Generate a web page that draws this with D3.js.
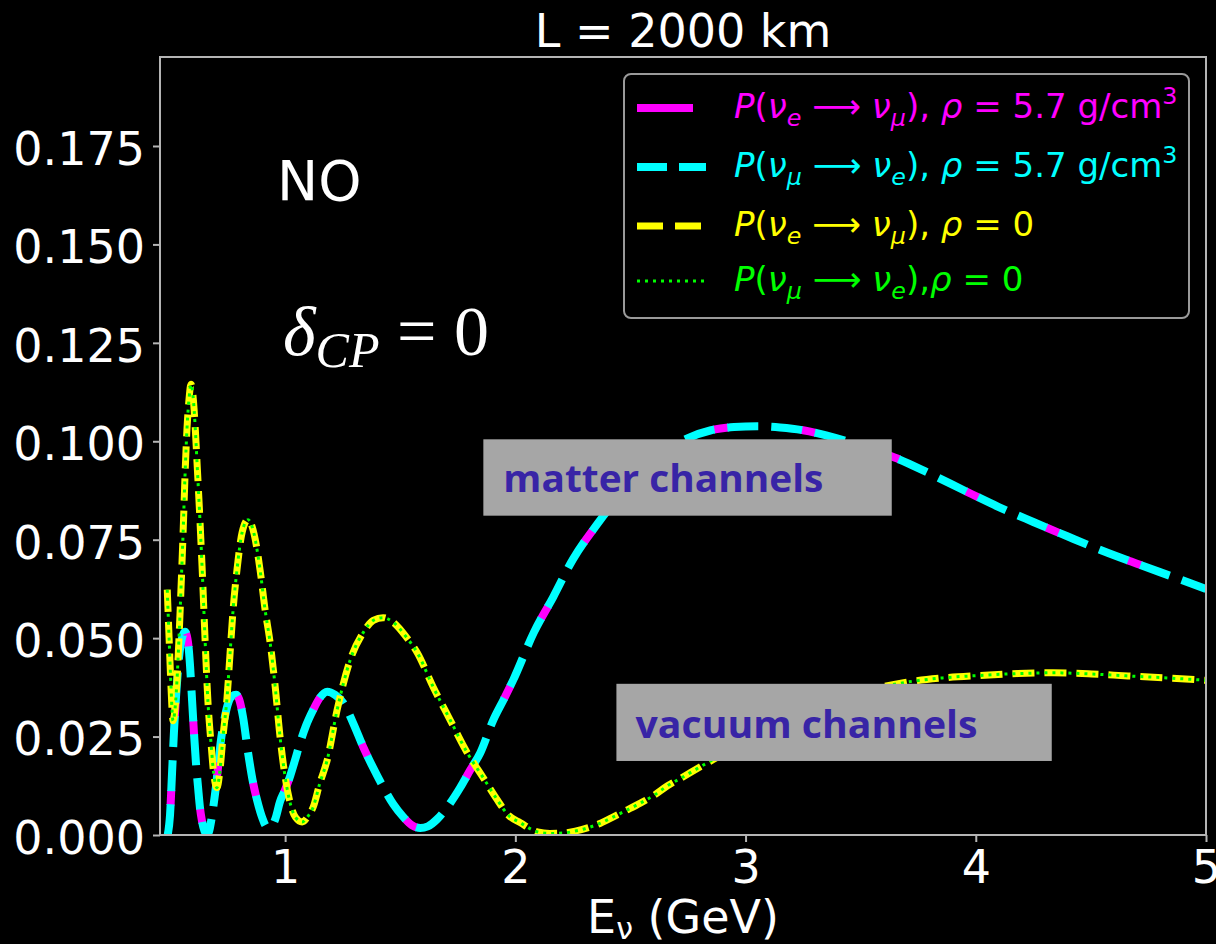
<!DOCTYPE html>
<html>
<head>
<meta charset="utf-8">
<script src="https://cdn.jsdelivr.net/npm/d3@7"></script>
<style>
  body { margin: 0; background: #000; }
  svg { display: block; }
</style>
</head>
<body>
<div id="chart"><svg></svg></div>
<script>
// matter channels (both directions give the same curve)
var matterE = [0.490, 0.500, 0.509, 0.517, 0.526, 0.539, 0.552, 0.565, 0.578, 0.587, 0.596, 0.604, 0.613, 0.622, 0.630, 0.639, 0.650, 0.661,
  0.670, 0.680, 0.690, 0.700, 0.710, 0.720, 0.735, 0.750, 0.768, 0.787, 0.800, 0.817, 0.839, 0.860, 0.878, 0.900, 0.922, 0.940,
  0.957, 0.978, 1.000, 1.022, 1.043, 1.065, 1.091, 1.122, 1.150, 1.183, 1.217, 1.252, 1.295, 1.339, 1.383, 1.426, 1.470, 1.513,
  1.550, 1.587, 1.620, 1.660, 1.717, 1.760, 1.804, 1.848, 1.904, 1.950, 1.991, 2.080, 2.165, 2.250, 2.350, 2.450, 2.550, 2.650,
  2.750, 2.850, 2.950, 3.050, 3.150, 3.250, 3.350, 3.450, 3.550, 3.650, 3.800, 3.950, 4.100, 4.250, 4.400, 4.550, 4.700, 4.850, 5.000];
var matterP = [0.000, 0.005, 0.016, 0.026, 0.035, 0.045, 0.050, 0.0516, 0.049, 0.043, 0.034, 0.026, 0.018, 0.012, 0.007, 0.0035, 0.001, 0.000,
  0.001, 0.004, 0.008, 0.0125, 0.018, 0.0235, 0.029, 0.033, 0.0352, 0.0356, 0.0345, 0.030, 0.0209, 0.0135, 0.0089, 0.0045, 0.002, 0.0022,
  0.004, 0.0085, 0.0115, 0.015, 0.019, 0.0234, 0.0278, 0.0318, 0.0348, 0.0364, 0.0356, 0.0336, 0.0285, 0.0224, 0.017, 0.0122, 0.0078, 0.0046,
  0.0025, 0.0018, 0.0022, 0.0040, 0.0081, 0.0120, 0.0165, 0.0209, 0.0292, 0.0345, 0.0394, 0.0514, 0.0605, 0.0700, 0.0785, 0.0860, 0.0925, 0.0975,
  0.1008, 0.1028, 0.1036, 0.1038, 0.1035, 0.1028, 0.1015, 0.0998, 0.0978, 0.0958, 0.0918, 0.0875, 0.0833, 0.0795, 0.0758, 0.0722, 0.0689, 0.0657, 0.0625];

// vacuum channels
var vacuumE = [0.488, 0.496, 0.504, 0.513, 0.520, 0.530, 0.539, 0.548, 0.557, 0.565, 0.574, 0.583, 0.591, 0.600, 0.609, 0.617, 0.630, 0.643,
  0.652, 0.665, 0.678, 0.690, 0.704, 0.717, 0.730, 0.748, 0.761, 0.774, 0.791, 0.813, 0.839, 0.865, 0.891, 0.913, 0.935, 0.957,
  0.978, 1.000, 1.022, 1.045, 1.074, 1.100, 1.122, 1.150, 1.183, 1.226, 1.283, 1.339, 1.383, 1.426, 1.470, 1.530, 1.574, 1.643,
  1.717, 1.791, 1.861, 1.922, 1.970, 2.022, 2.096, 2.150, 2.209, 2.260, 2.313, 2.370, 2.426, 2.480, 2.543, 2.600, 2.661, 2.730,
  2.800, 2.900, 3.000, 3.100, 3.200, 3.300, 3.400, 3.500, 3.600, 3.687, 3.856, 4.009, 4.183, 4.335, 4.504, 4.661, 4.830, 5.000];
var vacuumP = [0.0623, 0.050, 0.038, 0.029, 0.031, 0.039, 0.050, 0.063, 0.077, 0.091, 0.1035, 0.111, 0.1145, 0.1115, 0.104, 0.095, 0.080, 0.063,
  0.050, 0.0336, 0.0234, 0.0155, 0.012, 0.0165, 0.0249, 0.0351, 0.0463, 0.0572, 0.0674, 0.0768, 0.0801, 0.0765, 0.0674, 0.0572, 0.0488, 0.0376,
  0.0249, 0.0148, 0.0081, 0.0045, 0.0033, 0.0048, 0.0071, 0.0130, 0.0191, 0.0318, 0.0445, 0.0514, 0.0545, 0.0552, 0.0540, 0.0500, 0.0463, 0.0376,
  0.0292, 0.0209, 0.0145, 0.0089, 0.0050, 0.0031, 0.0008, 0.0004, 0.0005, 0.0010, 0.0018, 0.0030, 0.0046, 0.0062, 0.0081, 0.0100, 0.0125, 0.0148,
  0.0172, 0.0205, 0.0237, 0.0267, 0.0296, 0.0321, 0.0343, 0.0362, 0.0377, 0.0387, 0.0399, 0.0405, 0.0410, 0.0412, 0.0409, 0.0404, 0.0399, 0.0393];

var xTicks = [1, 2, 3, 4, 5];
var yTicks = [0, 0.025, 0.05, 0.075, 0.1, 0.125, 0.15, 0.175];

// legend rows: [text, style] pieces
var legendLabels = [
  [["P", "i"], ["(", ""], ["ν", "i"], ["e", "isub"], [" ⟶ ", ""], ["ν", "i"], ["μ", "isub"], ["), ", ""], ["ρ", "i"], [" = 5.7 g/cm", ""], ["3", "sup"]],
  [["P", "i"], ["(", ""], ["ν", "i"], ["μ", "isub"], [" ⟶ ", ""], ["ν", "i"], ["e", "isub"], ["), ", ""], ["ρ", "i"], [" = 5.7 g/cm", ""], ["3", "sup"]],
  [["P", "i"], ["(", ""], ["ν", "i"], ["e", "isub"], [" ⟶ ", ""], ["ν", "i"], ["μ", "isub"], ["), ", ""], ["ρ", "i"], [" = 0", ""]],
  [["P", "i"], ["(", ""], ["ν", "i"], ["μ", "isub"], [" ⟶ ", ""], ["ν", "i"], ["e", "isub"], ["),", ""], ["ρ", "i"], [" = 0", ""]]
];

var width = 1216, height = 944;
var margin = {left: 160, right: 10, top: 57, bottom: 109};
var font = "'DejaVu Sans', sans-serif";

var svg = d3.select("svg").attr("width", width).attr("height", height)
  .style("background", "#000");

var x = d3.scaleLinear().domain([0.4565, 5.0]).range([margin.left, width - margin.right]);
var y = d3.scaleLinear().domain([0, 0.1976]).range([height - margin.bottom, margin.top]);

svg.append("defs").append("clipPath").attr("id", "plot")
  .append("rect")
  .attr("x", x.range()[0]).attr("y", y.range()[1])
  .attr("width", x.range()[1] - x.range()[0])
  .attr("height", y.range()[0] - y.range()[1]);

function toPoints(es, ps) {
  return es.map(function(e, i) { return [e, ps[i]]; });
}
var matter = toPoints(matterE, matterP);
var vacuum = toPoints(vacuumE, vacuumP);

var line = d3.line()
  .x(function(d) { return x(d[0]); })
  .y(function(d) { return y(d[1]); })
  .curve(d3.curveMonotoneX);

var plot = svg.append("g").attr("clip-path", "url(#plot)");

// magenta solid underneath, shows in every other gap of the cyan dashes
plot.append("path").datum(matter)
  .attr("d", line).attr("fill", "none")
  .attr("stroke", "#ff00ff").attr("stroke-width", 8)
  .attr("stroke-dasharray", "15 73").attr("stroke-dashoffset", -30);
plot.append("path").datum(matter)
  .attr("d", line).attr("fill", "none")
  .attr("stroke", "#00ffff").attr("stroke-width", 8)
  .attr("stroke-dasharray", "31 13");
plot.append("path").datum(vacuum)
  .attr("d", line).attr("fill", "none")
  .attr("stroke", "#ffff00").attr("stroke-width", 7)
  .attr("stroke-dasharray", "22 10");
plot.append("path").datum(vacuum)
  .attr("d", line).attr("fill", "none")
  .attr("stroke", "#00ff00").attr("stroke-width", 3)
  .attr("stroke-dasharray", "3 5");

// axes
var axisColor = "#b4b4b4";
var xAxis = svg.append("g")
  .attr("transform", "translate(0," + y.range()[0] + ")")
  .call(d3.axisBottom(x).tickValues(xTicks).tickFormat(d3.format("d")).tickSize(7).tickPadding(8));
var yAxis = svg.append("g")
  .attr("transform", "translate(" + x.range()[0] + ",0)")
  .call(d3.axisLeft(y).tickValues(yTicks).tickFormat(d3.format(".3f")).tickSize(7).tickPadding(8));

[xAxis, yAxis].forEach(function(a) {
  a.select(".domain").remove();
  a.selectAll(".tick line").attr("stroke", axisColor).attr("stroke-width", 2);
  a.selectAll(".tick text").attr("fill", "#fff").style("font-family", font).style("font-size", "46px");
});
yAxis.selectAll(".tick text").attr("dy", "0.4em");

// frame
svg.append("rect")
  .attr("x", x.range()[0]).attr("y", y.range()[1])
  .attr("width", x.range()[1] - x.range()[0])
  .attr("height", y.range()[0] - y.range()[1])
  .attr("fill", "none").attr("stroke", axisColor).attr("stroke-width", 2);

// title and axis label
svg.append("text")
  .attr("x", (x.range()[0] + x.range()[1]) / 2).attr("y", 47)
  .attr("text-anchor", "middle").attr("fill", "#fff")
  .style("font-family", font).style("font-size", "46px")
  .text("L = 2000 km");

var xl = svg.append("text")
  .attr("x", (x.range()[0] + x.range()[1]) / 2).attr("y", 933)
  .attr("text-anchor", "middle").attr("fill", "#fff")
  .style("font-family", font).style("font-size", "46px");
xl.append("tspan").text("E");
xl.append("tspan").attr("dy", 6).attr("font-size", 30).text("ν");
xl.append("tspan").attr("dy", -6).text(" (GeV)");

// in-plot labels
svg.append("text")
  .attr("x", x(0.965)).attr("y", y(0.1613))
  .attr("fill", "#fff").style("font-family", font).style("font-size", "55px")
  .text("NO");

var dcp = svg.append("text")
  .attr("x", x(0.991)).attr("y", y(0.1219))
  .attr("fill", "#fff").style("font-family", "'Liberation Serif', 'DejaVu Serif', serif")
  .style("font-size", "70px");
dcp.append("tspan").attr("font-style", "italic").text("δ");
dcp.append("tspan").attr("font-style", "italic").attr("font-size", 50).attr("dy", 12).text("CP");
dcp.append("tspan").attr("dy", -12).text(" = 0");

// gray annotation boxes
var notes = [
  {text: "matter channels", e0: 1.861, e1: 3.635, p0: 0.1005, p1: 0.0811, te: 1.948, tp: 0.0872, len: 320},
  {text: "vacuum channels", e0: 2.439, e1: 4.330, p0: 0.0384, p1: 0.0188, te: 2.522, tp: 0.0247, len: 342}
];
notes.forEach(function(n) {
  svg.append("rect")
    .attr("x", x(n.e0)).attr("y", y(n.p0))
    .attr("width", x(n.e1) - x(n.e0)).attr("height", y(n.p1) - y(n.p0))
    .attr("fill", "#a6a6a6");
  svg.append("text")
    .attr("x", x(n.te)).attr("y", y(n.tp))
    .attr("fill", "#3824a6")
    .style("font-family", "'Open Sans', Lato, sans-serif")
    .style("font-weight", "bold").style("font-size", "38px")
    .attr("textLength", n.len).attr("lengthAdjust", "spacingAndGlyphs")
    .text(n.text);
});

// legend
var legendStyles = [
  {color: "#ff00ff", width: 8, dash: null, len: 56},
  {color: "#00ffff", width: 8, dash: "30 12", len: 69},
  {color: "#ffff00", width: 7, dash: "26 12", len: 64},
  {color: "#00ff00", width: 3, dash: "3 5", len: 69}
];
var legend = svg.append("g");
legend.append("rect")
  .attr("x", 624).attr("y", 74).attr("width", 565).attr("height", 244)
  .attr("rx", 7).attr("fill", "#000")
  .attr("stroke", "#9a9a9a").attr("stroke-width", 2);

function richText(sel, parts, size) {
  var off = 0;
  parts.forEach(function(p) {
    var target = 0, fs = size;
    if (p[1].indexOf("sub") >= 0) { target = size * 0.24; fs = size * 0.7; }
    if (p[1].indexOf("sup") >= 0) { target = -size * 0.4; fs = size * 0.7; }
    var t = sel.append("tspan").attr("dy", target - off).attr("font-size", fs).text(p[0]);
    if (p[1].indexOf("i") === 0) t.attr("font-style", "italic");
    off = target;
  });
}

var rowY = [108, 167, 226, 281];
legendLabels.forEach(function(parts, i) {
  var s = legendStyles[i];
  var h = legend.append("line")
    .attr("x1", 637).attr("x2", 637 + s.len)
    .attr("y1", rowY[i]).attr("y2", rowY[i])
    .attr("stroke", s.color).attr("stroke-width", s.width);
  if (s.dash) h.attr("stroke-dasharray", s.dash);
  var t = legend.append("text")
    .attr("x", 734).attr("y", rowY[i] + 10)
    .attr("fill", s.color)
    .style("font-family", font).style("font-size", "34px");
  richText(t, parts, 34);
});
</script>
</body>
</html>
